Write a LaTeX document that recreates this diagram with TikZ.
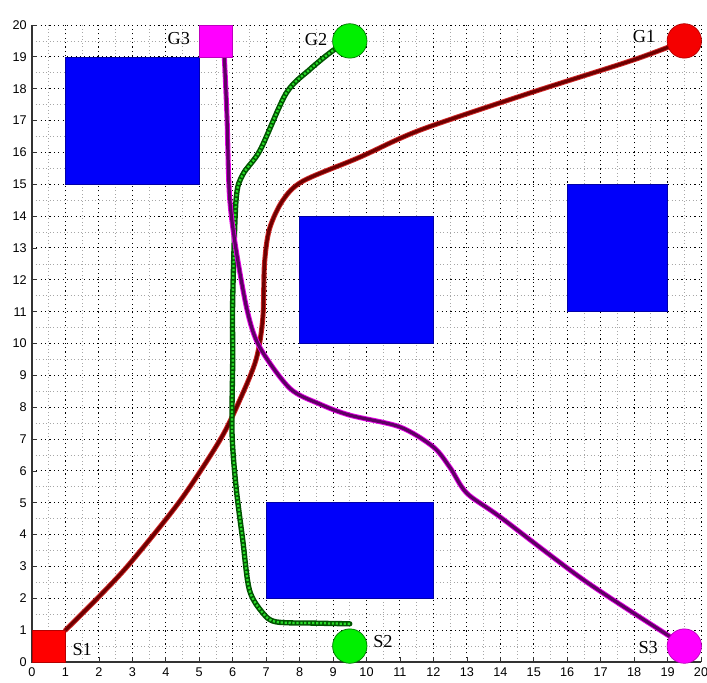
\documentclass[tikz,border=0pt]{standalone}
\usepackage{fontspec}
\setmainfont{Liberation Serif}
\newfontfamily\ticksf{Liberation Sans}
\definecolor{obstblue}{RGB}{0,0,250}
\definecolor{obstedge}{RGB}{0,0,170}
\definecolor{redouter}{RGB}{210,40,40}
\definecolor{redinner}{RGB}{110,0,0}
\definecolor{purouter}{RGB}{230,0,230}
\definecolor{purinner}{RGB}{95,0,100}
\definecolor{grnouter}{RGB}{0,85,0}
\definecolor{grninner}{RGB}{40,220,40}
\definecolor{mkred}{RGB}{245,0,0}
\definecolor{mkrededge}{RGB}{180,0,0}
\definecolor{mkgreen}{RGB}{0,240,0}
\definecolor{mkgreenedge}{RGB}{0,120,0}
\definecolor{mkmag}{RGB}{255,0,255}
\definecolor{mkmagedge}{RGB}{190,0,190}
\begin{document}
\begin{tikzpicture}[x=0.83625cm,y=0.79625cm,
  minorgrid/.style={black!35,line width=0.5pt,dash pattern=on 0.5pt off 2pt},
  majorgrid/.style={black,line width=0.7pt,dash pattern=on 0.8pt off 2.3pt},
  obst/.style={fill=obstblue,draw=obstedge,line width=0.4pt},
  ticklab/.style={font=\ticksf\fontsize{9}{10}\selectfont,inner sep=0pt},
  lab/.style={font=\fontsize{13}{14}\selectfont,inner sep=0pt},
  sqmark/.style={rectangle,minimum width=0.836cm,minimum height=0.796cm,inner sep=0pt,line width=0.4pt},
  circmark/.style={circle,minimum size=0.86cm,inner sep=0pt,line width=0.5pt},
  redout/.style={line width=3.6pt,color=redouter,line cap=round,line join=round},
  redin/.style={line width=2.3pt,color=redinner,line cap=round,line join=round},
  purout/.style={line width=3.6pt,color=purouter,line cap=round,line join=round},
  purin/.style={line width=2.3pt,color=purinner,line cap=round,line join=round},
  grnout/.style={line width=3.8pt,color=grnouter,line cap=round,line join=round},
  grnin/.style={line width=1.6pt,color=grninner,dash pattern=on 1.6pt off 1.2pt}]
\useasboundingbox (-0.9567,-0.628) rectangle (20.179,20.785);
\fill[white] (-0.9567,-0.628) rectangle (20.179,20.785);
% grid
\foreach \i in {0.5,1.5,...,19.5} {
  \draw[minorgrid] (\i,0) -- (\i,20);
  \draw[minorgrid] (0,\i) -- (20,\i);
}
\foreach \i in {1,...,20} {
  \draw[majorgrid] (\i,0) -- (\i,20);
  \draw[majorgrid] (0,\i) -- (20,\i);
}
% axes
\draw[black!80,line width=0.8pt] (0,20) -- (0,0) -- (20,0);
\foreach \i in {0,...,20} {
  \draw[black!80,line width=0.5pt] (\i,0) -- ++(0,0.15);
  \draw[black!80,line width=0.5pt] (0,\i) -- ++(0.15,0);
  \node[ticklab,anchor=north] (xl\i) at (\i,-0.16) {\i};
  \node[ticklab,anchor=east] (yl\i) at (-0.15,\i) {\i};
}
% obstacles
\draw[obst] (1,15) rectangle (5,19);
\draw[obst] (8,10) rectangle (12,14);
\draw[obst] (16,11) rectangle (19,15);
\draw[obst] (7,2) rectangle (12,5);
% start / goal coordinates
\coordinate (r0) at (1,1);
\coordinate (r1) at (19.5,19.5);
\coordinate (g0) at (9.5,1.2);
\coordinate (g1) at (9.5,19.5);
\coordinate (p0) at (19.5,0.5);
\coordinate (p1) at (5.75,19.0);
% red path S1 -> G1
\foreach \s in {redout,redin}{
\draw[\s] plot[smooth,tension=0.5] coordinates {(r0) (2,2.05) (2.93,3.1) (4.42,5.05) (5.62,6.97) (6.2,8.2) (6.7,9.5) (6.9,10.8) (6.95,12.5) (7.1,13.6) (7.5,14.5) (8.1,15.1) (9.8,15.85) (11.6,16.7) (14.9,17.87) (17.97,18.9) (r1)};
}
% green path S2 -> G2
\foreach \s in {grnout,grnin}{
\draw[\s] plot[smooth,tension=0.5] coordinates {(g0) (8.5,1.22) (7.3,1.26) (6.9,1.54) (6.5,2.26) (6.3,3.83) (6.1,5.5) (5.98,7.2) (6.0,9.5) (6.0,11.4) (6.1,14.5) (6.3,15.3) (6.82,16.07) (7.6,17.86) (8.3,18.6) (9.0,19.2) (g1)};
}
% purple path S3 -> G3
\foreach \s in {purout,purin}{
\draw[\s] plot[smooth,tension=0.5] coordinates {(p0) (19.07,0.8) (16.5,2.57) (14,4.55) (13,5.3) (12.5,6.1) (12,6.75) (11,7.38) (9.5,7.75) (8.6,8.1) (7.7,8.6) (6.8,9.9) (6.43,11.05) (6.07,13.15) (5.9,14.7) (5.83,17.1) (p1)};
}
% markers
\node[sqmark,fill=red,draw=mkrededge] (S1) at (0.5,0.5) {};
\node[sqmark,fill=mkmag,draw=mkmagedge] (G3) at (5.5,19.5) {};
\node[circmark,fill=mkgreen,draw=mkgreenedge] (S2) at (9.5,0.5) {};
\node[circmark,fill=mkgreen,draw=mkgreenedge] (G2) at (9.5,19.5) {};
\node[circmark,fill=mkmag,draw=mkmagedge] (S3) at (19.5,0.5) {};
\node[circmark,fill=mkred,draw=mkrededge] (G1) at (19.5,19.5) {};
% labels
\node[lab] (S1l) at (1.5,0.38) {S1};
\node[lab] (S2l) at (10.49,0.63) {S2};
\node[lab] (S3l) at (18.42,0.44) {S3};
\node[lab] (G3l) at (4.39,19.56) {G3};
\node[lab] (G2l) at (8.49,19.53) {G2};
\node[lab] (G1l) at (18.3,19.65) {G1};
\end{tikzpicture}
\end{document}
